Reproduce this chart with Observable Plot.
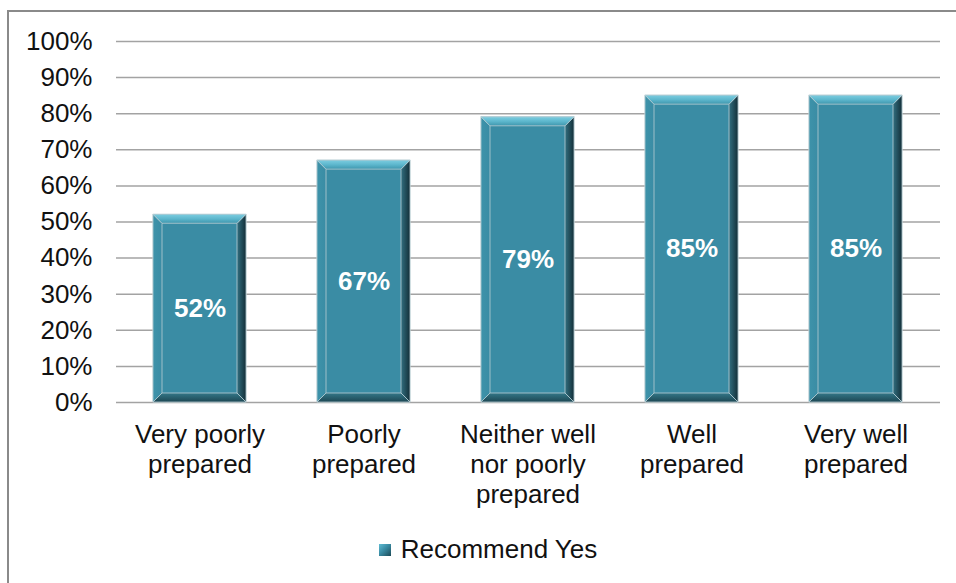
<!DOCTYPE html>
<html>
<head>
<meta charset="utf-8">
<script src="https://cdn.jsdelivr.net/npm/d3@7"></script>
<script src="https://cdn.jsdelivr.net/npm/@observablehq/plot@0.6"></script>
<style>
  html, body { margin: 0; padding: 0; background: #fff; }
  body { width: 956px; height: 583px; position: relative; overflow: hidden;
         font-family: "Liberation Sans", Arial, sans-serif; }
  #frame { position: absolute; left: 7px; top: 10px; right: -10px; bottom: -10px;
           border-left: 2px solid #8a8a8a; border-top: 2px solid #8a8a8a; }
  #chart { position: absolute; left: 0; top: 0; }
  #legend { position: absolute; left: 0; width: 956px; top: 532px; text-align: center;
            font-size: 26px; color: #111; line-height: 34px; }
  #legend .sw { display: inline-block; width: 12px; height: 12px; vertical-align: 2px;
                margin-right: 10px; margin-left: 20px;
                background: linear-gradient(135deg, #5fbcd3 0%, #3a8ca4 45%, #1c4a57 100%); }
</style>
</head>
<body>
<div id="frame"></div>
<div id="chart"></div>
<div id="legend"><span class="sw"></span>Recommend Yes</div>
<script>
const categories = [
  "Very poorly\nprepared",
  "Poorly\nprepared",
  "Neither well\nnor poorly\nprepared",
  "Well\nprepared",
  "Very well\nprepared"
];
const values = [0.52, 0.67, 0.79, 0.85, 0.85];
const yTicks = [0, 0.1, 0.2, 0.3, 0.4, 0.5, 0.6, 0.7, 0.8, 0.9, 1.0];
const seriesName = "Recommend Yes";

const data = categories.map((c, i) => ({category: c, value: values[i]}));
const pct = d3.format(".0%");

const plot = Plot.plot({
  width: 956,
  height: 520,
  marginTop: 41,
  marginBottom: 118,
  marginLeft: 116,
  marginRight: 16,
  style: {fontFamily: '"Liberation Sans", Arial, sans-serif', fontSize: "26px", color: "#111", background: "transparent"},
  x: {domain: categories, paddingInner: 0.43, paddingOuter: 0.215, axis: null},
  y: {domain: [0, 1], ticks: yTicks, tickFormat: pct, tickSize: 0, tickPadding: 24, label: null},
  marks: [
    Plot.ruleY(yTicks, {stroke: "#a3a3a3", strokeWidth: 1.5}),
    Plot.ruleX([0], {frameAnchor: "left", y1: 0, y2: 1, stroke: "#a3a3a3", strokeWidth: 1.5}),
    Plot.barY(data, {x: "category", y: "value", fill: "#3a8ca4", stroke: "#b8cdd3", strokeWidth: 0.8}),
    Plot.text(data, {x: "category", y: d => d.value / 2, text: d => pct(d.value),
      fill: "white", fontWeight: "bold", fontSize: 26}),
    Plot.text(data, {x: "category", y: 0, text: "category", dy: 19, lineAnchor: "top",
      lineHeight: 1.15, fontSize: 26, fill: "#111"})
  ]
});
document.getElementById("chart").appendChild(plot);

// bevel decoration derived from the bars Plot drew
const svg = d3.select(plot);
const defs = svg.insert("defs", ":first-child");
function grad(id, x2, y2, stops) {
  const g = defs.append("linearGradient").attr("id", id)
    .attr("x1", 0).attr("y1", 0).attr("x2", x2).attr("y2", y2);
  stops.forEach(([o, c]) => g.append("stop").attr("offset", o).attr("stop-color", c));
}
grad("bvTop", 0, 1, [[0, "#7ccde0"], [0.5, "#5db7cd"], [1, "#3f96ad"]]);
grad("bvRight", 1, 0, [[0, "#326f80"], [1, "#132f38"]]);
grad("bvBottom", 0, 1, [[0, "#337788"], [1, "#1d4753"]]);
grad("bvLeft", 1, 0, [[0, "#3e93aa"], [1, "#3a8ca4"]]);

const bevel = 9;
const barRects = plot.querySelectorAll('g[aria-label="bar"] rect');
barRects.forEach(r => {
  const x = +r.getAttribute("x"), y = +r.getAttribute("y");
  const w = +r.getAttribute("width"), h = +r.getAttribute("height");
  const g = d3.select(r.parentNode).append("g");
  const b = Math.min(bevel, w / 2, h / 2);
  const P = pts => pts.map(p => p.join(",")).join(" ");
  g.append("polygon").attr("fill", "url(#bvLeft)")
    .attr("points", P([[x, y], [x + b, y + b], [x + b, y + h - b], [x, y + h]]));
  g.append("polygon").attr("fill", "url(#bvRight)")
    .attr("points", P([[x + w, y], [x + w - b, y + b], [x + w - b, y + h - b], [x + w, y + h]]));
  g.append("polygon").attr("fill", "url(#bvTop)")
    .attr("points", P([[x, y], [x + w, y], [x + w - b, y + b], [x + b, y + b]]));
  g.append("polygon").attr("fill", "url(#bvBottom)")
    .attr("points", P([[x, y + h], [x + w, y + h], [x + w - b, y + h - b], [x + b, y + h - b]]));
});
// keep value labels above bevels
const labelsGroup = plot.querySelectorAll('g[aria-label="text"]');
labelsGroup.forEach(gEl => plot.appendChild(gEl));
</script>
</body>
</html>
